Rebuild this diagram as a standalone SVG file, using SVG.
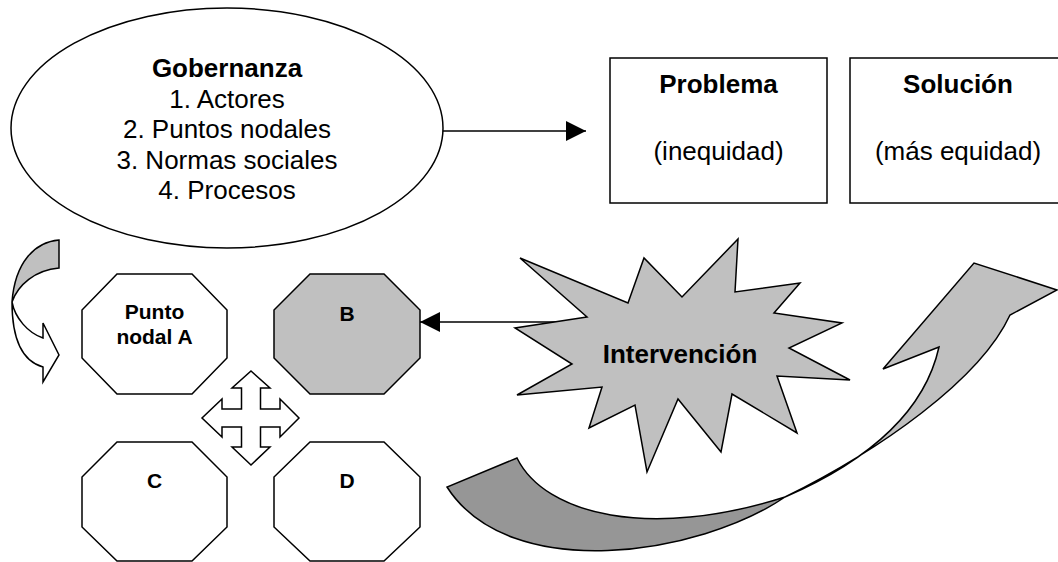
<svg xmlns="http://www.w3.org/2000/svg" width="1058" height="562" viewBox="0 0 1058 562">
  <style>
    .sh { stroke: #000; stroke-width: 1.5; stroke-linejoin: miter; }
    .w { fill: #fff; }
    .g { fill: #c0c0c0; }
    .dg { fill: #969696; }
    .t { font-family: "Liberation Sans", Arial, sans-serif; fill: #000; text-anchor: middle; }
    .big { font-size: 26px; }
    .small { font-size: 21px; font-weight: bold; }
    .b { font-weight: bold; }
    .ln { stroke: #000; stroke-width: 1.5; fill: none; }
  </style>
  <defs>
    <marker id="ah" viewBox="0 0 20 20" refX="20" refY="10" markerWidth="20" markerHeight="20" markerUnits="userSpaceOnUse" orient="auto">
      <path d="M0,0 L20,10 L0,20 Z" fill="#000"/>
    </marker>
  </defs>
  <rect width="1058" height="562" fill="#fff"/>

  <g id="gobernanza">
    <ellipse class="sh w" cx="227" cy="128" rx="216" ry="120"/>
    <text class="t big b" x="227" y="77">Gobernanza</text>
    <text class="t big" x="227" y="107.5">1. Actores</text>
    <text class="t big" x="227" y="138">2. Puntos nodales</text>
    <text class="t big" x="227" y="168.5">3. Normas sociales</text>
    <text class="t big" x="227" y="199">4. Procesos</text>
  </g>

  <g id="problema">
    <rect class="sh w" x="610" y="58" width="217" height="145"/>
    <text class="t big b" x="718.5" y="93">Problema</text>
    <text class="t big" x="718.5" y="160">(inequidad)</text>
  </g>

  <g id="solucion">
    <rect class="sh w" x="850" y="58" width="218" height="145"/>
    <text class="t big b" x="958" y="93">Solución</text>
    <text class="t big" x="958" y="160">(más equidad)</text>
  </g>

  <g id="curved-left-arrow">
    <path class="sh g" d="M59,240 C35,242 15,262 12,302 C18,285 35,270 59,268 Z"/>
    <path class="sh w" d="M12,302 C15,318 28,333 43,338 L43,323 L59,355 L43,382 L43,367 C25,362 12,345 12,302 Z"/>
  </g>

  <g id="nodo-a">
    <polygon class="sh w" points="117,274 192,274 227,310 227,358 192,394 117,394 82,358 82,310"/>
    <text class="t small" x="154.5" y="319">Punto</text>
    <text class="t small" x="154.5" y="344">nodal A</text>
  </g>

  <g id="nodo-b">
    <polygon class="sh g" points="310,274 384,274 420,310 420,358 384,394 310,394 274,358 274,310"/>
    <text class="t small" x="347" y="321">B</text>
  </g>

  <g id="nodo-c">
    <polygon class="sh w" points="117,442 192,442 227,477 227,527 192,561 117,561 82,527 82,477"/>
    <text class="t small" x="154.5" y="488">C</text>
  </g>

  <g id="nodo-d">
    <polygon class="sh w" points="310,442 384,442 420,477 420,527 384,561 310,561 274,527 274,477"/>
    <text class="t small" x="347" y="488">D</text>
  </g>

  <g id="cruz">
    <path class="sh w" d="M251,371 L270,388 L260.5,388 L260.5,409 L280,409 L280,399 L299,418 L280,437 L280,427 L260.5,427 L260.5,447 L270,447 L251,465 L232,447 L241.5,447 L241.5,427 L222,427 L222,437 L202,418 L222,399 L222,409 L241.5,409 L241.5,388 L232,388 Z"/>
  </g>

  <g id="flecha-grande">
    <path class="sh dg" d="M517,458 C545,515 650,540 785,497 C700,555 510,585 447,487 Z"/>
    <path class="sh g" d="M785,497 C880,450 980,380 1010,315 L1057,290 L974,263 L883,369 L939,347 C925,410 870,460 785,497 Z"/>
  </g>

  <g id="connectors">
    <line class="ln" x1="443" y1="131" x2="586" y2="131" marker-end="url(#ah)"/>
    <line class="ln" x1="560" y1="322" x2="420" y2="322" marker-end="url(#ah)"/>
  </g>

  <g id="intervencion">
    <polygon class="sh g" points="738,239 735,292 800,283 774,313 842,323 789,348 850,380 777,376 797,433 732,394 721,452 678,399 647,472 635,405 589,428 602,387 517,395 572,364 515,328 587,317 520,258 628,303 644,258 682,297"/>
    <text class="t big b" x="680" y="363">Intervención</text>
  </g>
</svg>
